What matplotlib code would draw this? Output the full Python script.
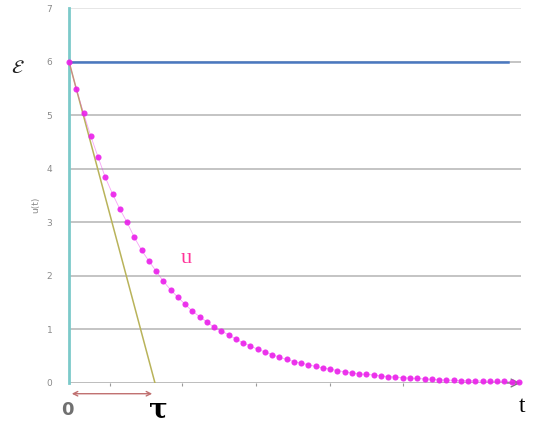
import matplotlib.pyplot as plt
import numpy as np

# u(t), one value per dot (time step index)
u_values = [6.00, 5.49, 5.04, 4.61, 4.22, 3.84, 3.53, 3.25, 3.00, 2.72,
            2.48, 2.28, 2.09, 1.90, 1.74, 1.60, 1.47, 1.34, 1.24, 1.14,
            1.04, 0.97, 0.90, 0.82, 0.75, 0.69, 0.63, 0.58, 0.53, 0.48,
            0.44, 0.40, 0.37, 0.34, 0.31, 0.28, 0.26, 0.23, 0.21, 0.19,
            0.17, 0.16, 0.15, 0.13, 0.12, 0.11, 0.10, 0.09, 0.085, 0.075,
            0.07, 0.06, 0.055, 0.05, 0.045, 0.04, 0.04, 0.035, 0.03, 0.03,
            0.03, 0.025, 0.025]
t_steps = np.arange(len(u_values))
E_level = 6
tau = 11.85
y_ticks = [0, 1, 2, 3, 4, 5, 6, 7]
x_minor_ticks = [5.6, 15.6, 25.8, 36.0, 46.0]

fig = plt.figure(figsize=(5.35, 4.25), dpi=100)
ax = fig.add_axes([69 / 535, 42 / 425, 452 / 535, 375 / 425])
ax.set_xlim(0, 62.3)
ax.set_ylim(0, 7)

for s in ax.spines.values():
    s.set_visible(False)

# horizontal grid lines
for y in y_ticks[1:]:
    ax.axhline(y, color='#e6e6e6' if y == 7 else '#c4c4c4', lw=1.4, zorder=1)
ax.axhline(0, color='#bdbdbd', lw=1.4, zorder=1)

ax.set_yticks(y_ticks)
ax.set_yticklabels([str(v) for v in y_ticks], color='#8a8a8a', fontsize=6.5)
ax.tick_params(axis='y', length=0, pad=12)
ax.set_xticks(x_minor_ticks)
ax.set_xticklabels([])
ax.tick_params(axis='x', length=2.5, color='#9a9a9a', direction='out')

# y axis line in teal
ax.plot([0, 0], [0, 7], color='#7ccaca', lw=2, zorder=2, clip_on=False)

# E level
ax.plot([0, 60.5], [E_level, E_level], color='#4a78c0', lw=1.8, zorder=3)

# tangent at t=0
ax.plot([0, tau], [E_level, 0], color='#b9b35a', lw=1.1, zorder=3)

# u(t) dots
ax.plot(t_steps, u_values, color='#ee33ee', lw=0.6, alpha=0.45, zorder=4,
        clip_on=False)
ax.plot(t_steps, u_values, 'o', color='#ea1fea', ms=4.4, mec='none',
        alpha=0.9, zorder=5, clip_on=False)

# arrow head at end of time axis
ax.annotate('', xy=(62.6, 0), xytext=(60.0, 0),
            arrowprops=dict(arrowstyle='->', color='#7a7a7a', lw=1.0,
                            mutation_scale=14),
            annotation_clip=False)

# tau interval arrow
ax.annotate('', xy=(0, -0.2), xytext=(tau, -0.2),
            arrowprops=dict(arrowstyle='<->', color='#c07070', lw=1.0,
                            mutation_scale=8),
            annotation_clip=False)

ax.text(-0.2, -0.5, '0', ha='center', va='center', fontsize=13,
        fontweight='bold', color='#707070')
ax.text(tau + 0.4, -0.5, 'τ', ha='center', va='center', fontsize=20,
        fontweight='bold', family='DejaVu Serif', color='black')
ax.text(62.5, -0.44, 't', ha='center', va='center', fontsize=17,
        family='Liberation Serif', color='black')
ax.text(16.2, 2.32, 'u', ha='center', va='center', fontsize=16,
        family='Liberation Serif', color='#ff3399')

fig.text(18 / 535, 1 - 67 / 425, r'$\mathcal{E}$', ha='center', va='center',
         fontsize=14, color='#222222')
fig.text(36 / 535, 1 - 205 / 425, 'u(t)', ha='center', va='center',
         rotation=90, fontsize=6.5, color='#8a8a8a')

fig.savefig('out.png', dpi=100)
